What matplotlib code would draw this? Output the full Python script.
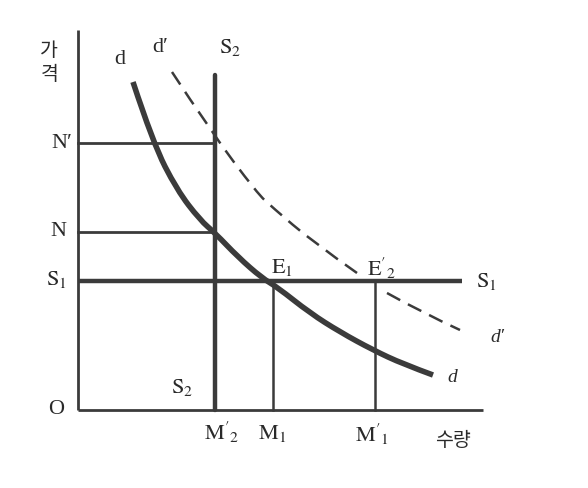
import matplotlib
matplotlib.use("Agg")
import matplotlib.pyplot as plt
from matplotlib.path import Path
from matplotlib.patches import PathPatch

plt.rcParams['mathtext.fontset'] = 'stix'
plt.rcParams['font.family'] = ['Liberation Serif', 'Noto Sans CJK KR']

# axis extents (quantity, price)
x_max = 405
y_max = 380

# supply lines
s1_price = 129          # horizontal S1
s1_end = 384
s2_qty = 137            # vertical S2
s2_top = 335

# price levels N, N'
n_price = 178
n_prime_price = 267

# quantities M1, M'1
m1_qty = 195
m1_prime_qty = 297

# demand curve d
d_x = [55, 75, 99, 122, 137, 160, 184, 199, 232, 262, 295, 325, 355]
d_y = [328, 267, 220, 190, 177, 153, 132, 123, 97, 78, 60, 46, 35]

# shifted demand d' (dashed, broken at E'2)
dp_x1 = [94, 132, 179, 194, 235, 279]
dp_y1 = [338, 280, 217, 203, 168, 137]
dp_x2 = [309, 345, 382]
dp_y2 = [117, 97, 80]

ink = '#3b3b3b'


def smooth_path(xs, ys):
    # quadratic bezier chain: read points as control points, midpoints as knots
    pts = list(zip(xs, ys))
    verts = [pts[0]]
    codes = [Path.MOVETO]
    for i in range(1, len(pts) - 1):
        mid = ((pts[i][0] + pts[i + 1][0]) / 2, (pts[i][1] + pts[i + 1][1]) / 2)
        if i == len(pts) - 2:
            mid = pts[-1]
        verts += [pts[i], mid]
        codes += [Path.CURVE3, Path.CURVE3]
    return Path(verts, codes)


fig = plt.figure(figsize=(5.88, 4.88), dpi=100)
ax = fig.add_axes([0, 0, 1, 1])
ax.set_xlim(-78, 510)
ax.set_ylim(-78, 410)
ax.axis('off')

# axes
ax.plot([0, 0], [0, y_max], color=ink, lw=2.0, solid_capstyle='butt')
ax.plot([0, x_max], [0, 0], color=ink, lw=2.0, solid_capstyle='butt')

# price guides
ax.plot([0, s2_qty], [n_prime_price, n_prime_price], color=ink, lw=2.0)
ax.plot([0, s2_qty], [n_price, n_price], color=ink, lw=2.0)

# quantity guides
ax.plot([m1_qty, m1_qty], [0, s1_price], color=ink, lw=1.8)
ax.plot([m1_prime_qty, m1_prime_qty], [0, s1_price], color=ink, lw=1.8)

# supply
ax.plot([0, s1_end], [s1_price, s1_price], color=ink, lw=3.2, solid_capstyle='butt')
ax.plot([s2_qty, s2_qty], [0, s2_top], color=ink, lw=3.2, solid_capstyle='round')

# demand
ax.add_patch(PathPatch(smooth_path(d_x, d_y), fill=False, edgecolor=ink, lw=4.0,
                       capstyle='butt', joinstyle='round'))
ax.add_patch(PathPatch(smooth_path(dp_x1, dp_y1), fill=False, edgecolor=ink, lw=1.8,
                       linestyle=(0, (6, 3.5))))
ax.add_patch(PathPatch(smooth_path(dp_x2, dp_y2), fill=False, edgecolor=ink, lw=1.8,
                       linestyle=(0, (6, 3.5))))

txt = dict(color='#2a2a2a', ha='center', va='center', fontsize=16)
kr = dict(color='#2a2a2a', ha='center', va='center', fontsize=14,
          family=['Noto Sans CJK KR', 'DejaVu Sans'])

ax.text(-29, 360, '가', **kr)
ax.text(-28, 335, '격', **kr)
ax.text(42, 350, 'd', **txt)
ax.text(82, 363, "d′", **txt)
ax.text(152, 362, r'$\mathrm{S_2}$', **txt)
ax.text(-16, n_prime_price - 1, "N′", **txt)
ax.text(-20, n_price, 'N', **txt)
ax.text(-22, s1_price + 1, r'$\mathrm{S_1}$', **txt)
ax.text(-22, 0, 'O', **txt)
ax.text(104, 23, r'$\mathrm{S_2}$', **txt)
ax.text(204, 142, r'$\mathrm{E_1}$', **txt)
ax.text(304, 142, r"$\mathrm{E'_2}$", **txt)
ax.text(408, 128, r'$\mathrm{S_1}$', **txt)
ax.text(419, 72, "d′", style='italic', **dict(txt, fontsize=14))
ax.text(374, 33, 'd', style='italic', **dict(txt, fontsize=14))
ax.text(144, -22, r"$\mathrm{M'_2}$", **txt)
ax.text(194, -24, r'$\mathrm{M_1}$', **txt)
ax.text(294, -24, r"$\mathrm{M'_1}$", **txt)
ax.text(375, -30, '수량', **kr)

fig.savefig('out.png', dpi=100, facecolor='white')
